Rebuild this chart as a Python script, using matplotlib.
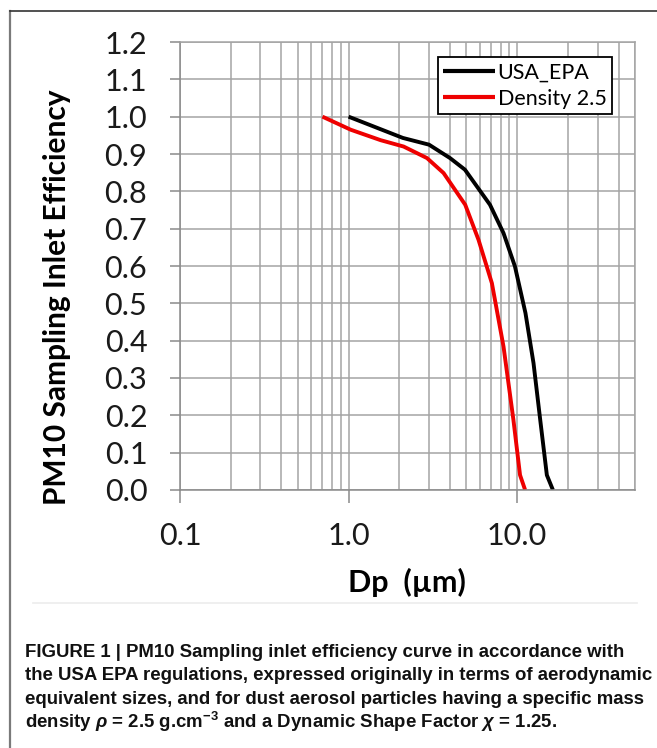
import matplotlib
matplotlib.use("Agg")
from matplotlib import pyplot as plt
from matplotlib.lines import Line2D
from matplotlib.ticker import FixedLocator, NullFormatter

# efficiency curves
usa_dp = [1.0, 2.1, 3.0, 4.0, 4.9, 6.9, 8.3, 9.7, 11.2, 12.5, 13.7, 15.0, 16.3]
usa_eff = [1.0, 0.943, 0.925, 0.889, 0.858, 0.764, 0.688, 0.599, 0.474, 0.340, 0.188, 0.040, 0.0]

dens_dp = [0.70, 1.03, 1.55, 2.12, 2.92, 3.66, 4.92, 5.9, 7.08, 8.3, 9.5, 10.4, 11.15]
dens_eff = [1.0, 0.965, 0.937, 0.920, 0.889, 0.849, 0.764, 0.670, 0.554, 0.384, 0.188, 0.040, 0.0]

series_labels = ["USA_EPA", "Density 2.5"]
x_ticks = [0.1, 1.0, 10.0]
x_ticklabels = ["0.1", "1.0", "10.0"]
y_ticks = [i / 10 for i in range(13)]
y_ticklabels = ["%.1f" % v for v in y_ticks]

caption_lines = [
    "FIGURE 1 | PM10 Sampling inlet efficiency curve in accordance with",
    "the USA EPA regulations, expressed originally in terms of aerodynamic",
    "equivalent sizes, and for dust aerosol particles having a specific mass",
    r"density $\rho$ = 2.5 g.cm$^{-3}$ and a Dynamic Shape Factor $\chi$ = 1.25.",
]

plt.rcParams["mathtext.fontset"] = "custom"
plt.rcParams["mathtext.rm"] = "Liberation Sans:bold"
plt.rcParams["mathtext.it"] = "Liberation Sans:italic:bold"
plt.rcParams["mathtext.bf"] = "Liberation Sans:bold"

W, H = 657, 748
fig = plt.figure(figsize=(W / 100, H / 100), dpi=100)
ax = fig.add_axes([180 / W, 1 - 490 / H, (635 - 180) / W, (490 - 42) / H])

grid_col = "#a4a4a4"
ax.plot(usa_dp, usa_eff, color="black", lw=2.8, label=series_labels[0], solid_capstyle="butt")
ax.plot(dens_dp, dens_eff, color="#ee0000", lw=2.8, label=series_labels[1], solid_capstyle="butt")

ax.set_xscale("log")
ax.set_xlim(0.1, 50)
ax.set_ylim(0, 1.2)

minors = [m * 10 ** e for e in (-1, 0, 1) for m in range(2, 10)]
minors = [v for v in minors if v <= 50]
ax.xaxis.set_major_locator(FixedLocator(x_ticks))
ax.xaxis.set_minor_locator(FixedLocator(minors))
ax.xaxis.set_minor_formatter(NullFormatter())
ax.set_xticklabels(x_ticklabels)
ax.set_yticks(y_ticks)
ax.set_yticklabels(y_ticklabels)

ax.grid(True, which="both", color=grid_col, lw=1.1)
ax.set_axisbelow(True)
for s in ax.spines.values():
    s.set_color(grid_col)
    s.set_linewidth(1.1)
ax.spines["left"].set_color("#8a8a8a")
ax.spines["bottom"].set_color("#8a8a8a")

ax.tick_params(axis="x", which="major", direction="out", length=9, width=1.1,
               color="#8a8a8a", pad=14, labelsize=22)
ax.tick_params(axis="x", which="minor", length=0)
ax.tick_params(axis="y", direction="out", length=7.5, width=1.1,
               color="#8a8a8a", pad=16, labelsize=22)
for lab in ax.get_xticklabels() + ax.get_yticklabels():
    lab.set_fontfamily("Lato")
    lab.set_color("#1a1a1a")

leg = ax.legend(loc="upper left", bbox_to_anchor=(438 / W, 1 - 57 / H),
                bbox_transform=fig.transFigure, prop={"family": "Lato", "size": 15.5},
                handlelength=2.4, handletextpad=0.12, borderpad=0.25,
                labelspacing=0.3, borderaxespad=0, fancybox=False, framealpha=1)
leg.get_frame().set_edgecolor("black")
leg.get_frame().set_linewidth(1.3)
for h in leg.get_lines():
    h.set_linewidth(3.0)

fig.text(57 / W, 1 - 297 / H, "PM10 Sampling Inlet Efficiency", rotation=90,
         ha="center", va="center", family="Lato", weight="bold", fontsize=21.5)
fig.text(407 / W, 1 - 582 / H, "Dp  (\u00b5m)", ha="center", va="center",
         family="Lato", weight="bold", fontsize=22)

# caption block under the chart
for i, line in enumerate(caption_lines):
    fig.text(25 / W, 1 - (657 + 23.5 * i) / H, line, ha="left", va="baseline",
             family="Liberation Sans", weight="bold", fontsize=13.4, color="#111111")

# faint divider and outer frame
fig.add_artist(Line2D([33 / W, 637 / W], [1 - 603 / H] * 2, color="#ececec", lw=1.2))
fig.add_artist(Line2D([10 / W, 10 / W], [0, 1 - 11 / H], color="#7a7a7a", lw=1.6))
fig.add_artist(Line2D([10 / W, 1], [1 - 11 / H] * 2, color="#333333", lw=1.2))

fig.savefig("out.png", dpi=100)
